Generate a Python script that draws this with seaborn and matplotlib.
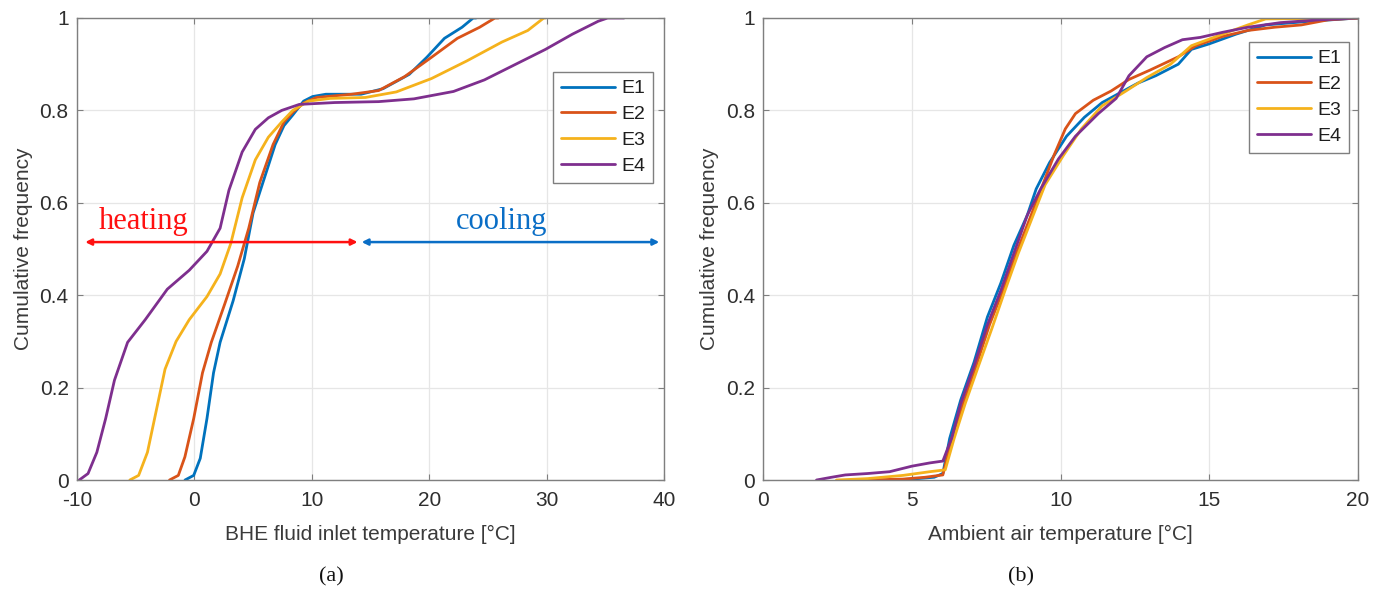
import numpy as np
import pandas as pd
import matplotlib
matplotlib.use("Agg")
import matplotlib.pyplot as plt
import seaborn as sns

# ---------------- data ----------------
series_names = ["E1", "E2", "E3", "E4"]
colors = ["#0072BD", "#D95319", "#F5B21C", "#7E2F8E"]

# Panel (a): BHE fluid inlet temperature vs cumulative frequency
a_E1_x = [-0.8, -0.06, 0.5, 1.07, 1.63, 2.19, 3.3, 4.25, 5.0, 5.94, 6.88, 7.63, 8.38, 9.3, 10.07, 11.2, 14.2, 16.07, 18.3, 19.8, 21.3, 22.8, 23.75, 24.0]
a_E1_y = [0.0, 0.01, 0.047, 0.133, 0.232, 0.298, 0.388, 0.479, 0.578, 0.652, 0.726, 0.767, 0.79, 0.82, 0.83, 0.835, 0.835, 0.847, 0.878, 0.915, 0.956, 0.98, 1.0, 1.0]

a_E2_x = [-2.12, -1.37, -0.81, -0.06, 0.69, 1.44, 2.57, 3.69, 4.63, 5.57, 6.7, 7.63, 8.38, 9.3, 10.4, 13.4, 15.7, 17.9, 20.2, 22.4, 24.3, 25.6, 25.9]
a_E2_y = [0.0, 0.01, 0.05, 0.133, 0.232, 0.298, 0.38, 0.463, 0.545, 0.644, 0.726, 0.775, 0.796, 0.816, 0.828, 0.835, 0.843, 0.873, 0.915, 0.956, 0.98, 1.0, 1.0]

a_E3_x = [-5.5, -4.75, -4.0, -3.25, -2.5, -1.56, -0.44, 1.07, 2.19, 3.1, 4.07, 5.19, 6.3, 7.44, 8.38, 9.7, 11.57, 14.57, 17.2, 20.2, 23.2, 26.2, 28.4, 29.76, 29.9]
a_E3_y = [0.0, 0.01, 0.06, 0.15, 0.24, 0.30, 0.347, 0.397, 0.446, 0.512, 0.611, 0.693, 0.742, 0.775, 0.8, 0.82, 0.826, 0.828, 0.84, 0.869, 0.907, 0.948, 0.973, 1.0, 1.0]

a_E4_x = [-9.81, -9.06, -8.31, -7.56, -6.81, -5.69, -4.19, -2.31, -0.44, 1.07, 2.19, 2.94, 4.07, 5.19, 6.3, 7.44, 8.94, 11.94, 15.7, 18.7, 22.07, 24.7, 27.3, 29.9, 32.2, 34.4, 35.2, 36.6]
a_E4_y = [0.0, 0.014, 0.06, 0.133, 0.216, 0.298, 0.347, 0.413, 0.454, 0.495, 0.545, 0.627, 0.71, 0.759, 0.784, 0.8, 0.813, 0.817, 0.819, 0.825, 0.841, 0.866, 0.899, 0.932, 0.965, 0.993, 1.0, 1.0]

# Panel (b): ambient air temperature vs cumulative frequency
b_E1_x = [4.25, 5.0, 5.75, 6.04, 6.27, 6.64, 7.09, 7.54, 7.99, 8.43, 8.88, 9.18, 9.63, 10.2, 10.8, 11.4, 12.0, 12.6, 13.2, 13.96, 14.4, 15.0, 15.9, 16.9, 18.4, 20.0]
b_E1_y = [0.0, 0.002, 0.006, 0.014, 0.09, 0.173, 0.255, 0.353, 0.426, 0.508, 0.573, 0.63, 0.687, 0.744, 0.785, 0.817, 0.838, 0.859, 0.875, 0.9, 0.932, 0.944, 0.965, 0.985, 0.993, 1.0]

b_E2_x = [3.36, 4.7, 5.45, 6.04, 6.34, 6.72, 7.16, 7.61, 8.06, 8.51, 8.96, 9.4, 9.78, 10.16, 10.5, 11.1, 11.7, 12.3, 13.0, 13.96, 14.55, 15.45, 16.3, 17.2, 18.1, 19.0, 20.0]
b_E2_y = [0.0, 0.002, 0.006, 0.011, 0.09, 0.165, 0.247, 0.336, 0.41, 0.491, 0.565, 0.639, 0.703, 0.76, 0.793, 0.822, 0.842, 0.867, 0.887, 0.916, 0.94, 0.96, 0.973, 0.98, 0.985, 0.996, 1.0]

b_E3_x = [2.46, 3.5, 4.7, 5.6, 6.12, 6.42, 6.79, 7.24, 7.69, 8.13, 8.58, 9.03, 9.48, 10.1, 10.7, 11.4, 12.2, 12.9, 13.7, 14.4, 15.45, 16.3, 16.9, 20.0]
b_E3_y = [0.0, 0.003, 0.01, 0.018, 0.022, 0.09, 0.165, 0.247, 0.328, 0.41, 0.491, 0.565, 0.639, 0.703, 0.76, 0.81, 0.842, 0.871, 0.9, 0.94, 0.965, 0.985, 0.998, 1.0]

b_E4_x = [1.79, 2.3, 2.76, 3.5, 4.25, 5.0, 5.6, 6.04, 6.34, 6.64, 7.09, 7.54, 7.99, 8.43, 8.88, 9.33, 9.93, 10.5, 11.27, 11.87, 12.3, 12.9, 13.5, 14.1, 14.7, 15.45, 16.3, 17.4, 18.7, 20.0]
b_E4_y = [0.0, 0.006, 0.011, 0.014, 0.018, 0.03, 0.037, 0.041, 0.091, 0.165, 0.247, 0.336, 0.41, 0.491, 0.573, 0.63, 0.695, 0.744, 0.793, 0.826, 0.875, 0.916, 0.936, 0.953, 0.958, 0.969, 0.98, 0.99, 0.996, 1.0]

a_x_ticks = [-10, 0, 10, 20, 30, 40]
b_x_ticks = [0, 5, 10, 15, 20]
y_ticks = [0, 0.2, 0.4, 0.6, 0.8, 1]
y_tick_labels = ["0", "0.2", "0.4", "0.6", "0.8", "1"]

def to_df(xs, ys):
    frames = []
    for name, x, y in zip(series_names, xs, ys):
        frames.append(pd.DataFrame({"temp": x, "freq": y, "series": name}))
    return pd.concat(frames, ignore_index=True)

df_a = to_df([a_E1_x, a_E2_x, a_E3_x, a_E4_x], [a_E1_y, a_E2_y, a_E3_y, a_E4_y])
df_b = to_df([b_E1_x, b_E2_x, b_E3_x, b_E4_x], [b_E1_y, b_E2_y, b_E3_y, b_E4_y])

# ---------------- style ----------------
sns.set_theme(style="whitegrid")
plt.rcParams["font.family"] = ["Arial", "Liberation Sans", "DejaVu Sans"]
palette = dict(zip(series_names, colors))
text_col = "#3a3a3a"
serif = ["Liberation Serif", "DejaVu Serif"]

fig = plt.figure(figsize=(13.85, 5.96), dpi=100)
ax_a = fig.add_axes([0.0556, 0.1946, 0.4238, 0.7752])
ax_b = fig.add_axes([0.5511, 0.1946, 0.4293, 0.7752])

def style_axes(ax, xlim, xticks, xlabel):
    ax.set_xlim(*xlim)
    ax.set_ylim(0, 1)
    ax.set_xticks(xticks)
    ax.set_xticklabels([str(t) for t in xticks])
    ax.set_yticks(y_ticks)
    ax.set_yticklabels(y_tick_labels)
    ax.set_facecolor("white")
    ax.grid(True, color="#e6e6e6", linewidth=0.9)
    for s in ax.spines.values():
        s.set_visible(True)
        s.set_color("#7f7f7f")
        s.set_linewidth(1.0)
    ax.tick_params(direction="in", length=4, width=0.8, color="#7f7f7f",
                   labelsize=15, labelcolor="#2e2e2e", top=True, right=True,
                   bottom=True, left=True)
    ax.tick_params(axis="x", pad=8)
    ax.tick_params(axis="y", pad=6)
    ax.set_xlabel(xlabel, fontsize=15, color=text_col, labelpad=11)
    ax.set_ylabel("Cumulative frequency", fontsize=15, color=text_col, labelpad=5)

for ax, df in ((ax_a, df_a), (ax_b, df_b)):
    sns.lineplot(data=df, x="temp", y="freq", hue="series", palette=palette,
                 sort=False, estimator=None, linewidth=2.0, ax=ax, legend=True)

style_axes(ax_a, (-10, 40), a_x_ticks, "BHE fluid inlet temperature [\u00b0C]")
style_axes(ax_b, (0, 20), b_x_ticks, "Ambient air temperature [\u00b0C]")

def make_legend(ax, anchor):
    h, l = ax.get_legend_handles_labels()
    leg = ax.legend(h, l, loc="upper right", bbox_to_anchor=anchor, fontsize=14,
                    frameon=True, fancybox=False, edgecolor="#7f7f7f",
                    framealpha=1, handlelength=2.8, handletextpad=0.3,
                    borderpad=0.4, labelspacing=0.42, borderaxespad=0)
    leg.get_frame().set_linewidth(1.0)
    for t in leg.get_texts():
        t.set_color("#1e1e1e")

make_legend(ax_a, (0.981, 0.883))
make_legend(ax_b, (0.985, 0.948))

# heating / cooling arrows
ax_a.annotate("", xy=(-9.3, 0.515), xytext=(13.9, 0.515),
              arrowprops=dict(arrowstyle="<|-|>", color="#ff1010", lw=1.8,
                              mutation_scale=9, shrinkA=0, shrinkB=0))
ax_a.annotate("", xy=(14.25, 0.515), xytext=(39.6, 0.515),
              arrowprops=dict(arrowstyle="<|-|>", color="#0a6ec6", lw=1.8,
                              mutation_scale=9, shrinkA=0, shrinkB=0))
ax_a.text(-4.35, 0.56, "heating", color="#ff1010", fontsize=22,
          family=serif, ha="center", va="center")
ax_a.text(26.2, 0.56, "cooling", color="#0a6ec6", fontsize=22,
          family=serif, ha="center", va="center")

fig.text(0.239, 0.032, "(a)", fontsize=16, family=serif,
         ha="center", va="center", color="#111111")
fig.text(0.737, 0.032, "(b)", fontsize=16, family=serif,
         ha="center", va="center", color="#111111")

fig.savefig("out.png", dpi=100, facecolor="white")
